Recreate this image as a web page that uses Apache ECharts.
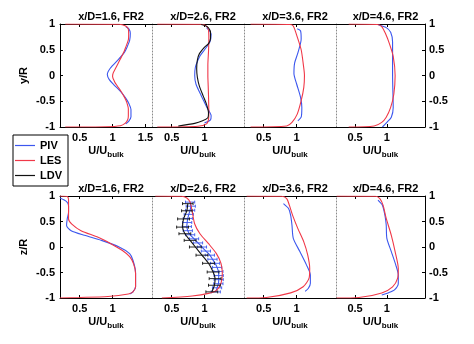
<!DOCTYPE html>
<html><head><meta charset="utf-8">
<script src="https://cdn.jsdelivr.net/npm/echarts@6.0.0/dist/echarts.min.js"></script>
<style>html,body{margin:0;padding:0;background:#fff}#c{width:474px;height:344px}</style>
</head><body><div id="c"></div>
<script>
// ---------- data ----------
const panelTitles = ['x/D=1.6, FR2', 'x/D=2.6, FR2', 'x/D=3.6, FR2', 'x/D=4.6, FR2'];
const rowYNames = ['y/R', 'z/R'];
const legendNames = ['PIV', 'LES', 'LDV'];
const yTicks = [-1, -0.5, 0, 0.5, 1];
const xTicksWide = [0.5, 1, 1.5];
const xTicks = [0.5, 1];

// top row (y/R), pairs [U/Ubulk, y/R]
const les_top_16 = [[0.28,1],[1.1,0.995],[1.2,0.96],[1.24,0.9],[1.245,0.8],[1.24,0.69],[1.2,0.55],[1.17,0.45],[1.11,0.3],[1.05,0.15],[1.01,0.05],[1.0,-0.02],[1.03,-0.12],[1.07,-0.2],[1.13,-0.31],[1.18,-0.42],[1.21,-0.5],[1.24,-0.65],[1.24,-0.78],[1.23,-0.86],[1.19,-0.93],[1.12,-0.975],[0.9,-0.995],[0.28,-1]];
const piv_top_16 = [[1.2,0.95],[1.25,0.9],[1.27,0.82],[1.26,0.68],[1.22,0.55],[1.18,0.45],[1.08,0.3],[0.97,0.15],[0.92,0.02],[0.95,-0.08],[1.02,-0.18],[1.12,-0.31],[1.2,-0.44],[1.25,-0.55],[1.28,-0.66],[1.28,-0.8],[1.25,-0.88],[1.2,-0.94]];
const les_top_26 = [[0.28,1],[0.95,0.995],[1.03,0.96],[1.06,0.88],[1.065,0.7],[1.06,0.47],[1.05,0.2],[1.05,0],[1.055,-0.2],[1.06,-0.4],[1.065,-0.73],[1.06,-0.85],[1.03,-0.94],[0.9,-0.985],[0.28,-1]];
const piv_top_26 = [[1.03,0.93],[1.08,0.86],[1.1,0.8],[1.08,0.65],[1.0,0.5],[0.93,0.38],[0.9,0.3],[0.86,0.16],[0.85,0.0],[0.87,-0.17],[0.93,-0.34],[0.99,-0.5],[1.04,-0.63],[1.08,-0.72],[1.1,-0.78],[1.09,-0.86],[1.0,-0.92]];
const ldv_top_26 = [[0.95,0.99],[1.04,0.95],[1.09,0.85],[1.09,0.72],[1.06,0.62],[1.0,0.55],[0.92,0.42],[0.89,0.3],[0.88,0.13],[0.89,-0.03],[0.92,-0.2],[0.98,-0.4],[1.03,-0.56],[1.06,-0.73],[1.05,-0.82],[0.97,-0.88],[0.85,-0.93],[0.6,-0.98]];
const les_top_36 = [[0.3,1],[0.9,0.99],[0.95,0.96],[1.01,0.75],[1.07,0.5],[1.1,0.24],[1.12,0],[1.11,-0.23],[1.07,-0.49],[1.01,-0.75],[0.93,-0.91],[0.85,-0.98],[0.3,-1]];
const piv_top_36 = [[1.01,0.91],[1.06,0.87],[1.07,0.71],[1.02,0.44],[0.97,0.24],[0.96,0.04],[1.0,-0.16],[1.06,-0.42],[1.08,-0.62],[1.07,-0.81],[1.02,-0.88]];
const les_top_46 = [[0.4,1],[0.85,0.99],[0.92,0.95],[0.98,0.81],[1.04,0.62],[1.1,0.37],[1.13,0],[1.11,-0.36],[1.06,-0.62],[0.99,-0.81],[0.92,-0.91],[0.8,-0.98],[0.4,-1]];
const piv_top_46 = [[0.87,0.98],[0.99,0.93],[1.06,0.84],[1.09,0.65],[1.09,0],[1.1,-0.62],[1.07,-0.81],[1.0,-0.91],[0.93,-1]];

// bottom row (z/R), pairs [U/Ubulk, z/R]
const les_bot_16 = [[0.2,1],[0.31,0.99],[0.33,0.92],[0.33,0.71],[0.33,0.55],[0.38,0.45],[0.52,0.32],[0.78,0.19],[0.98,0.06],[1.15,-0.07],[1.26,-0.19],[1.32,-0.33],[1.35,-0.52],[1.35,-0.78],[1.31,-0.88],[1.24,-0.92],[0.93,-0.97],[0.5,-0.99],[0.2,-1]];
const piv_bot_16 = [[0.2,0.96],[0.3,0.89],[0.33,0.81],[0.33,0.68],[0.31,0.55],[0.3,0.42],[0.37,0.32],[0.57,0.23],[0.83,0.13],[1.1,0.0],[1.26,-0.13],[1.31,-0.26],[1.35,-0.5],[1.35,-0.78],[1.31,-0.88],[1.26,-0.92]];
const les_bot_26 = [[0.25,1],[0.65,0.995],[0.73,0.96],[0.78,0.88],[0.81,0.71],[0.85,0.45],[0.93,0.26],[1.06,0.065],[1.18,-0.13],[1.25,-0.32],[1.27,-0.52],[1.25,-0.71],[1.18,-0.85],[1.06,-0.91],[0.81,-0.96],[0.35,-1]];
const piv_bot_26 = [[0.78,0.88],[0.79,0.8],[0.78,0.72],[0.76,0.64],[0.745,0.56],[0.735,0.48],[0.73,0.4],[0.745,0.32],[0.78,0.24],[0.84,0.16],[0.9,0.08],[0.96,0.0],[1.02,-0.08],[1.08,-0.16],[1.12,-0.24],[1.16,-0.32],[1.19,-0.4],[1.21,-0.48],[1.215,-0.56],[1.215,-0.64],[1.21,-0.72],[1.19,-0.8],[1.17,-0.88]];
const piv_err_26 = [0.07,0.07,0.07,0.07,0.07,0.07,0.07,0.07,0.07,0.07,0.07,0.07,0.07,0.07,0.07,0.07,0.07,0.07,0.07,0.07,0.07,0.07,0.07];
const ldv_bot_26 = [[0.745,0.85],[0.73,0.71],[0.68,0.55],[0.665,0.39],[0.7,0.26],[0.78,0.13],[0.86,0.0],[0.96,-0.16],[1.06,-0.32],[1.13,-0.49],[1.16,-0.62],[1.15,-0.75],[1.11,-0.88]];
const ldv_err_26 = [0.08,0.08,0.09,0.09,0.09,0.09,0.09,0.09,0.09,0.09,0.09,0.09,0.09];
const les_bot_36 = [[0.24,1],[0.77,0.995],[0.85,0.95],[0.89,0.82],[0.94,0.62],[1.02,0.36],[1.11,0.1],[1.17,-0.16],[1.2,-0.42],[1.19,-0.61],[1.1,-0.78],[0.91,-0.9],[0.54,-0.99],[0.24,-1]];
const piv_bot_36 = [[0.8,0.85],[0.88,0.75],[0.91,0.62],[0.93,0.43],[0.95,0.17],[1.05,-0.09],[1.15,-0.35],[1.21,-0.55],[1.21,-0.71],[1.18,-0.81],[1.13,-0.87]];
const les_bot_46 = [[0.21,1],[0.82,0.995],[0.89,0.95],[0.94,0.82],[0.99,0.56],[1.07,0.23],[1.13,-0.09],[1.18,-0.42],[1.17,-0.61],[1.09,-0.78],[0.92,-0.9],[0.56,-0.99],[0.21,-1]];
const piv_bot_46 = [[0.86,0.92],[0.93,0.82],[0.97,0.62],[0.99,0.43],[1.0,0.17],[1.07,-0.09],[1.14,-0.35],[1.18,-0.55],[1.18,-0.71],[1.12,-0.84],[1.02,-0.9],[0.92,-0.94]];

// ---------- layout / style ----------
const BLUE = '#3c57ee', RED = '#f03848', BLACK = '#111111';
const FONT = 'Liberation Sans, Arial, Helvetica, sans-serif';
const L = [60, 152, 244, 336], W = [92, 92, 92, 89];
const T = [24, 196], H = [103, 102];

const panels = [
  { les: les_top_16, piv: piv_top_16 },
  { les: les_top_26, piv: piv_top_26, ldv: ldv_top_26 },
  { les: les_top_36, piv: piv_top_36 },
  { les: les_top_46, piv: piv_top_46 },
  { les: les_bot_16, piv: piv_bot_16 },
  { les: les_bot_26, piv: piv_bot_26, ldv: ldv_bot_26, pivErr: piv_err_26, ldvErr: ldv_err_26 },
  { les: les_bot_36, piv: piv_bot_36 },
  { les: les_bot_46, piv: piv_bot_46 }
];

const labelStyle = { color: '#000', fontFamily: FONT, fontWeight: 'bold', fontSize: 11 };
const grids = [], xAxes = [], yAxes = [], series = [], titles = [];

function errRender(color) {
  return function (params, api) {
    const u = api.value(0), z = api.value(1), e = api.value(2);
    const a = api.coord([u - e, z]), b = api.coord([u + e, z]);
    const st = { stroke: color, lineWidth: 0.9 };
    return { type: 'group', children: [
      { type: 'line', shape: { x1: a[0], y1: a[1], x2: b[0], y2: b[1] }, style: st },
      { type: 'line', shape: { x1: a[0], y1: a[1] - 1.5, x2: a[0], y2: a[1] + 1.5 }, style: st },
      { type: 'line', shape: { x1: b[0], y1: b[1] - 1.5, x2: b[0], y2: b[1] + 1.5 }, style: st }
    ]};
  };
}

for (let r = 0; r < 2; r++) {
  for (let c = 0; c < 4; c++) {
    const i = r * 4 + c;
    grids.push({ left: L[c], top: T[r], width: W[c], height: H[r], containLabel: false });
    titles.push({ text: panelTitles[c], left: L[c] + W[c] / 2, top: r === 0 ? 6 : 178, textAlign: 'center',
      textStyle: { fontFamily: FONT, fontWeight: 'bold', fontSize: 11, color: '#000' } });
    const tv = (r === 0 && c === 0) ? xTicksWide : xTicks;
    xAxes[i] = {
      gridIndex: i, type: 'value', min: 0.2, max: 1.6, position: 'bottom',
      axisLine: { onZero: false, lineStyle: { color: '#000', width: 1 } },
      axisTick: { inside: true, length: 3, customValues: tv, lineStyle: { color: '#000' } },
      axisLabel: Object.assign({ customValues: tv, margin: 5 }, labelStyle),
      splitLine: { show: false },
      name: '{a|U/U}{b|bulk}', nameLocation: 'middle', nameGap: 15,
      nameTextStyle: { rich: {
        a: { fontFamily: FONT, fontWeight: 'bold', fontSize: 11, color: '#000' },
        b: { fontFamily: FONT, fontWeight: 'bold', fontSize: 8, color: '#000', padding: [9, 0, 0, 0] }
      } }
    };
    xAxes[8 + i] = {
      gridIndex: i, type: 'value', min: 0.2, max: 1.6, position: 'top',
      axisLine: { onZero: false, lineStyle: { color: '#000', width: 1 } },
      axisTick: { inside: true, length: 3, customValues: tv, lineStyle: { color: '#000' } },
      axisLabel: { show: false }, splitLine: { show: false }
    };
    if (c === 0) {
      yAxes[i] = {
        gridIndex: i, type: 'value', min: -1, max: 1, interval: 0.5, position: 'left',
        axisLine: { show: true, onZero: false, lineStyle: { color: '#000', width: 1 } },
        axisTick: { show: true, inside: true, length: 3, lineStyle: { color: '#000' } },
        axisLabel: Object.assign({ margin: 5 }, labelStyle),
        splitLine: { show: false },
        name: rowYNames[r], nameLocation: 'middle', nameRotate: 90, nameGap: 31,
        nameTextStyle: labelStyle
      };
    } else {
      yAxes[i] = {
        gridIndex: i, type: 'value', min: -1, max: 1, interval: 0.5, position: 'left',
        axisLine: { show: true, onZero: false, lineStyle: { color: '#8a8a8a', width: 1, type: [1, 2] } },
        axisTick: { show: false }, axisLabel: { show: false }, splitLine: { show: false }
      };
    }
    const p = panels[i];
    series.push({ name: 'PIV', type: 'line', xAxisIndex: i, yAxisIndex: i, data: p.piv, showSymbol: false, symbol: 'none',
      smooth: 0.25, lineStyle: { color: BLUE, width: 1.1 }, itemStyle: { color: BLUE }, z: 3, animation: false });
    series.push({ name: 'LES', type: 'line', xAxisIndex: i, yAxisIndex: i, data: p.les, showSymbol: false, symbol: 'none',
      smooth: 0.25, lineStyle: { color: RED, width: 1.1 }, itemStyle: { color: RED }, z: 4, animation: false });
    if (p.ldv) {
      series.push({ name: 'LDV', type: 'line', xAxisIndex: i, yAxisIndex: i, data: p.ldv, showSymbol: false, symbol: 'none',
        smooth: 0.25, lineStyle: { color: BLACK, width: 1.1 }, itemStyle: { color: BLACK }, z: 5, animation: false });
    }
    if (p.pivErr) {
      series.push({ name: 'PIV err', type: 'custom', xAxisIndex: i, yAxisIndex: i, renderItem: errRender(BLUE),
        encode: { x: 0, y: 1 }, data: p.piv.map((d, k) => [d[0], d[1], p.pivErr[k]]), z: 2, animation: false });
    }
    if (p.ldvErr) {
      series.push({ name: 'LDV err', type: 'custom', xAxisIndex: i, yAxisIndex: i, renderItem: errRender(BLACK),
        encode: { x: 0, y: 1 }, data: p.ldv.map((d, k) => [d[0], d[1], p.ldvErr[k]]), z: 6, animation: false });
    }
  }
}
// right axes
for (let r = 0; r < 2; r++) {
  yAxes.push({
    gridIndex: r * 4 + 3, type: 'value', min: -1, max: 1, interval: 0.5, position: 'right',
    axisLine: { show: true, onZero: false, lineStyle: { color: '#000', width: 1 } },
    axisTick: { show: true, inside: true, length: 3, lineStyle: { color: '#000' } },
    axisLabel: Object.assign({ margin: 4 }, labelStyle), splitLine: { show: false }
  });
}

const chart = echarts.init(document.getElementById('c'), null, { renderer: 'canvas' });
chart.setOption({
  backgroundColor: '#fff',
  animation: false,
  title: titles,
  legend: {
    data: legendNames, orient: 'vertical', left: 13, top: 135,
    icon: 'rect', itemWidth: 20, itemHeight: 1.2, itemGap: 2,
    padding: [4, 6, 4, 2], borderColor: '#000', borderWidth: 1,
    selectedMode: false,
    textStyle: { fontFamily: FONT, fontWeight: 'bold', fontSize: 11, color: '#000', lineHeight: 13 }
  },
  grid: grids, xAxis: xAxes, yAxis: yAxes, series: series
});
</script></body></html>
